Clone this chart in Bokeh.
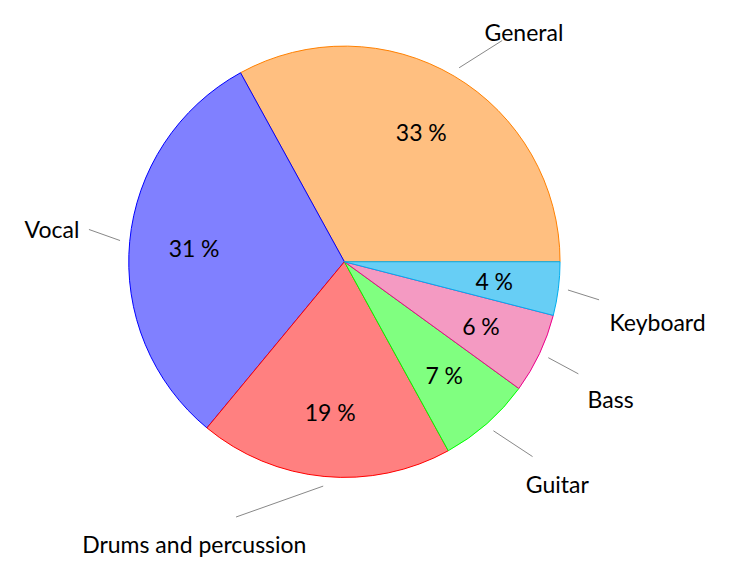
import math
from bokeh.plotting import figure
from bokeh.models import Range1d, ColumnDataSource
from bokeh.core.properties import value
from bokeh.embed import file_html
from bokeh.resources import INLINE

# ---- data ----
categories = ["General", "Vocal", "Drums and percussion", "Guitar", "Bass", "Keyboard"]
shares = [33, 31, 19, 7, 6, 4]
fill_colors = ["#FFBF80", "#8080FF", "#FF8080", "#80FF80", "#F49AC2", "#67CEF5"]
line_colors = ["#FF8000", "#0000FF", "#FF0000", "#00FF00", "#EC008C", "#00AEEF"]

# ---- layout (reference geometry) ----
R_PX = 227.0
CX, CY = 354.0, 279.0
W, H = 723, 565
K = 0.95  # shrink so the whole reference area fits the figure
X0, Y0 = -8.0, 4.0
FONT = "Lato"
FS = "23px"

# leader end: (radius factor, angle offset from mid angle in degrees)
leader_end = [(1.26, -4.9), (1.194, -1.8), (1.286, -17.6), (1.256, 2.6), (1.203, -0.4), (1.194, -1.3)]
# outer label anchors in reference px (x, baseline y) and alignment
label_anchor = [(543, 37, "center"), (75, 244, "right"), (196, 576, "center"),
                (545, 513, "left"), (610, 423, "left"), (633, 342, "left")]


def sx(x):
    return (x - CX) / R_PX


def sy(y):
    return (CY - y) / R_PX


total = float(sum(shares))
starts, ends, mids = [], [], []
acc = 0.0
for s in shares:
    a0 = acc / total * 2 * math.pi
    acc += s
    a1 = acc / total * 2 * math.pi
    starts.append(a0)
    ends.append(a1)
    mids.append((a0 + a1) / 2)

p = figure(width=W, height=H, output_backend="svg", toolbar_location=None,
           x_range=Range1d(sx(X0), sx(X0 + W / K)), y_range=Range1d(sy(Y0 + H / K), sy(Y0)),
           min_border=0, outline_line_color=None, background_fill_color="white")
p.axis.visible = False
p.grid.visible = False

src = ColumnDataSource(dict(start=starts, end=ends, fill=fill_colors, line=line_colors))
p.wedge(x=0, y=0, radius=1.0, start_angle="start", end_angle="end", direction="anticlock",
        fill_color="fill", line_color="line", line_width=1, source=src)

# percent labels
px = [0.7 * math.cos(m) for m in mids]
py = [0.7 * math.sin(m) for m in mids]
ptxt = [f"{s}\u2005%" for s in shares]
p.text(x=px, y=py, text=ptxt, text_align="center", text_baseline="middle",
       text_font=value(FONT), text_font_size=FS, text_color="black")

# leader lines
xs, ys = [], []
for m, (rf, da) in zip(mids, leader_end):
    a2 = m + math.radians(da)
    xs.append([1.045 * math.cos(m), rf * math.cos(a2)])
    ys.append([1.045 * math.sin(m), rf * math.sin(a2)])
p.multi_line(xs=xs, ys=ys, line_color="#888888", line_width=1)

# outer labels
for name, (ax, ay, al) in zip(categories, label_anchor):
    p.text(x=[sx(ax)], y=[sy(ay)], text=[name], text_align=al, text_baseline="alphabetic",
           text_font=value(FONT), text_font_size=FS, text_color="black")

open("out.html", "w").write(file_html(p, INLINE))
